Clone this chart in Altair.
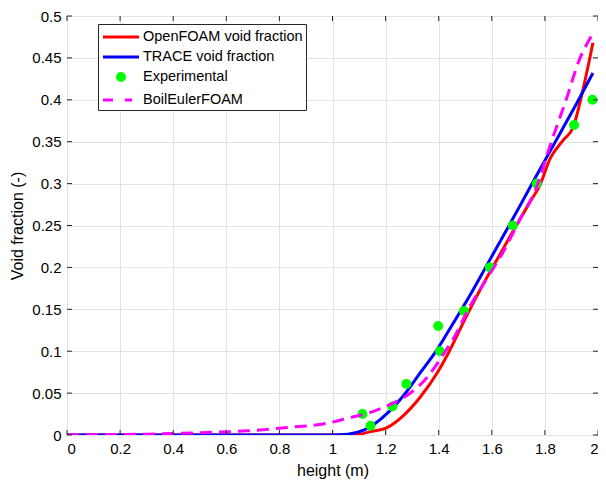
import altair as alt
import pandas as pd

series_names = ["OpenFOAM void fraction", "TRACE void fraction", "Experimental", "BoilEulerFOAM"]
series_colors = ["#ff0000", "#0000ff", "#00ff00", "#ff00ff"]

openfoam_h = [0.0, 0.5, 1.0, 1.08, 1.143, 1.207, 1.27, 1.33, 1.394, 1.44, 1.494, 1.544, 1.594,
              1.644, 1.694, 1.744, 1.781, 1.82, 1.869, 1.906, 1.944, 1.981]
openfoam_vf = [0.0, 0.0, 0.0, 0.0, 0.004, 0.009, 0.024, 0.045, 0.074, 0.1, 0.135, 0.166, 0.195,
               0.223, 0.251, 0.278, 0.298, 0.33, 0.352, 0.367, 0.413, 0.468]

trace_h = [0.0, 0.5, 1.0, 1.058, 1.12, 1.207, 1.27, 1.33, 1.39, 1.45, 1.52, 1.582, 1.644,
           1.707, 1.769, 1.85, 1.92, 1.981]
trace_vf = [0.0, 0.0, 0.0, 0.001, 0.006, 0.026, 0.048, 0.074, 0.1, 0.131, 0.168, 0.203, 0.238,
            0.274, 0.31, 0.356, 0.396, 0.432]

boil_h = [0.0, 0.3, 0.53, 0.68, 0.83, 0.98, 1.057, 1.143, 1.207, 1.28, 1.357, 1.425, 1.457,
          1.52, 1.582, 1.644, 1.707, 1.769, 1.82, 1.88, 1.93, 1.975]
boil_vf = [0.0, 0.001, 0.003, 0.005, 0.009, 0.014, 0.02, 0.027, 0.035, 0.047, 0.069, 0.1, 0.116,
           0.155, 0.187, 0.219, 0.258, 0.296, 0.346, 0.4, 0.448, 0.476]

exp_h = [1.113, 1.143, 1.226, 1.278, 1.398, 1.405, 1.495, 1.593, 1.679, 1.769, 1.910, 1.979]
exp_vf = [0.025, 0.011, 0.034, 0.061, 0.130, 0.100, 0.148, 0.200, 0.250, 0.300, 0.370, 0.400]

x_ticks = [0, 0.2, 0.4, 0.6, 0.8, 1.0, 1.2, 1.4, 1.6, 1.8, 2.0]
y_ticks = [0, 0.05, 0.1, 0.15, 0.2, 0.25, 0.3, 0.35, 0.4, 0.45, 0.5]

FONT = "Liberation Sans"
AXIS_COLOR = "#262626"
W, H = 531, 419

of_df = pd.DataFrame({"h": openfoam_h, "vf": openfoam_vf})
tr_df = pd.DataFrame({"h": trace_h, "vf": trace_vf})
be_df = pd.DataFrame({"h": boil_h, "vf": boil_vf})
exp_df = pd.DataFrame({"series": series_names[2], "h": exp_h, "vf": exp_vf})
xt_df = pd.DataFrame({"t": x_ticks})
yt_df = pd.DataFrame({"t": y_ticks})

xscale = alt.Scale(domain=[0, 2], nice=False, zero=False)
yscale = alt.Scale(domain=[0, 0.5], nice=False, zero=False)
color_scale = alt.Scale(domain=series_names, range=series_colors)

line_sym = "M-2.12,0L2.12,0"
dash_sym = "M-2.12,0L-0.95,0M0.45,0L1.3,0"
circ_sym = "M-0.41,0A0.41,0.41,0,1,1,0.41,0A0.41,0.41,0,1,1,-0.41,0Z"
shape_scale = alt.Scale(domain=series_names, range=[line_sym, line_sym, circ_sym, dash_sym])

x_enc = alt.X("h:Q", scale=xscale,
              axis=alt.Axis(values=x_ticks, format="~g", title="height (m)", grid=True,
                            ticks=False, domain=False, labelPadding=6, titlePadding=6))
y_enc = alt.Y("vf:Q", scale=yscale,
              axis=alt.Axis(values=y_ticks, format="~g", title="Void fraction (-)", grid=True,
                            ticks=False, domain=False, labelPadding=6, titlePadding=6))


def line_layer(df, color, dash=None):
    kw = dict(strokeWidth=3, clip=True, color=color, interpolate="monotone")
    if dash:
        kw["strokeDash"] = dash
    return alt.Chart(df).mark_line(**kw).encode(x=x_enc, y=y_enc)


red = line_layer(of_df, series_colors[0])
blue = line_layer(tr_df, series_colors[1])
magenta = line_layer(be_df, series_colors[3], [12, 7])

legend = alt.Legend(
    title=None, orient="none", legendX=31, legendY=8,
    symbolSize=289, symbolStrokeWidth=3, symbolOffset=10, labelOffset=12,
    labelFont=FONT, labelFontSize=14.5, labelColor="black", labelLimit=400,
    padding=3, rowPadding=3, fillColor="white", strokeColor=AXIS_COLOR,
)

points = alt.Chart(exp_df).mark_point(filled=True, size=289, opacity=1, strokeWidth=3).encode(
    x=alt.X("h:Q", scale=xscale),
    y=alt.Y("vf:Q", scale=yscale),
    color=alt.Color("series:N", scale=color_scale, legend=legend),
    stroke=alt.Stroke("series:N", scale=color_scale, legend=legend),
    shape=alt.Shape("series:N", scale=shape_scale, legend=legend),
)

tick_len = 5
xt_bottom = alt.Chart(xt_df).mark_rule(color=AXIS_COLOR, strokeWidth=1).encode(
    x=alt.X("t:Q", scale=xscale), y=alt.value(H), y2=alt.value(H - tick_len))
xt_top = alt.Chart(xt_df).mark_rule(color=AXIS_COLOR, strokeWidth=1).encode(
    x=alt.X("t:Q", scale=xscale), y=alt.value(0), y2=alt.value(tick_len))
yt_left = alt.Chart(yt_df).mark_rule(color=AXIS_COLOR, strokeWidth=1).encode(
    y=alt.Y("t:Q", scale=yscale), x=alt.value(0), x2=alt.value(tick_len))
yt_right = alt.Chart(yt_df).mark_rule(color=AXIS_COLOR, strokeWidth=1).encode(
    y=alt.Y("t:Q", scale=yscale), x=alt.value(W - tick_len), x2=alt.value(W))

chart = alt.layer(red, blue, points, magenta, xt_bottom, xt_top, yt_left, yt_right).properties(
    width=W, height=H,
    autosize=alt.AutoSizeParams(type="none"),
    padding={"left": 59, "top": 8, "right": 0, "bottom": 47},
).configure_view(
    stroke=AXIS_COLOR, strokeWidth=1
).configure_axis(
    labelFont=FONT, labelFontSize=15, labelColor="black",
    titleFont=FONT, titleFontSize=16, titleColor="black", titleFontWeight="normal",
    gridColor="#e3e3e3", gridWidth=1, gridOpacity=1,
)

chart.save("out.html", embed_options={"renderer": "svg", "actions": False})
